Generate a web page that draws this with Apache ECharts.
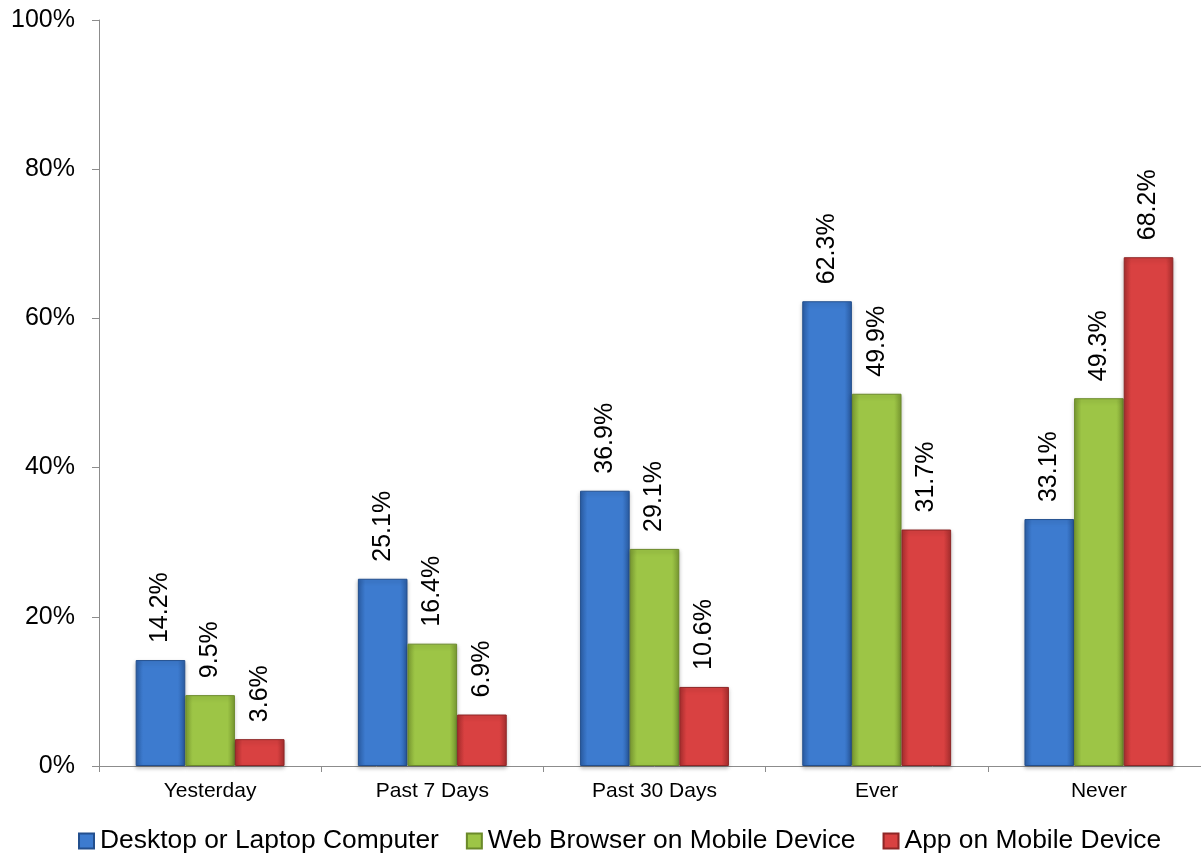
<!DOCTYPE html>
<html>
<head>
<meta charset="utf-8">
<script src="https://cdn.jsdelivr.net/npm/echarts@6/dist/echarts.min.js"></script>
<style>
  html, body { margin: 0; padding: 0; background: #fff; overflow: hidden; }
  /* the plot runs a little past the right edge in the original */
  #chart { width: 1212px; height: 855px; }
</style>
</head>
<body>
<div id="chart"></div>
<script>
const categories = ['Yesterday', 'Past 7 Days', 'Past 30 Days', 'Ever', 'Never']
const seriesNames = ['Desktop or Laptop Computer', 'Web Browser on Mobile Device', 'App on Mobile Device']
const desktop = [14.2, 25.1, 36.9, 62.3, 33.1]
const mobileWeb = [9.5, 16.4, 29.1, 49.9, 49.3]
const mobileApp = [3.6, 6.9, 10.6, 31.7, 68.2]

const chart = echarts.init(document.getElementById('chart'))

// darker edges, lighter middle, to fake the bevel look
function bevel(edge, mid) {
    return new echarts.graphic.LinearGradient(0, 0, 1, 0, [
        {offset: 0, color: edge},
        {offset: 0.15, color: mid},
        {offset: 0.85, color: mid},
        {offset: 1, color: edge}
    ])
}

function makeSeries(name, data, edge, mid, border) {
    return {
        name: name,
        type: 'bar',
        data: data,
        barGap: '0%',
        barCategoryGap: '33%',
        itemStyle: {
            color: bevel(edge, mid),
            borderColor: border,
            borderWidth: 1,
            shadowColor: 'rgba(0,0,0,0.25)',
            shadowBlur: 4,
            shadowOffsetY: 2
        },
        label: {
            show: true,
            position: 'top',
            rotate: 90,
            align: 'left',
            verticalAlign: 'middle',
            distance: 17,
            fontSize: 25,
            fontFamily: 'Liberation Sans',
            color: '#000',
            formatter: p => p.value.toFixed(1) + '%'
        }
    }
}

chart.setOption({
    animation: false,
    grid: {left: 99, top: 20, width: 1111, bottom: 89, containLabel: false},
    legend: {
        data: seriesNames,
        top: 823,
        left: 73,
        itemWidth: 15,
        itemHeight: 15,
        itemGap: 27,
        icon: 'rect',
        textStyle: {fontSize: 26.4, fontFamily: 'Liberation Sans', color: '#000', padding: [0, 0, 0, 1]}
    },
    xAxis: {
        type: 'category',
        data: categories,
        axisLine: {lineStyle: {color: '#8c8c8c', width: 1}},
        axisTick: {show: true, length: 6, lineStyle: {color: '#8c8c8c'}},
        axisLabel: {fontSize: 21, fontFamily: 'Liberation Sans', color: '#000', margin: 15}
    },
    yAxis: {
        type: 'value',
        min: 0,
        max: 100,
        interval: 20,
        axisLine: {show: true, lineStyle: {color: '#8c8c8c', width: 1}},
        axisTick: {show: true, length: 7, lineStyle: {color: '#8c8c8c'}},
        splitLine: {show: false},
        axisLabel: {fontSize: 25, fontFamily: 'Liberation Sans', color: '#000', margin: 24, formatter: '{value}%'}
    },
    series: [
        makeSeries(seriesNames[0], desktop, '#2b5ea6', '#3d7bcf', '#234f8e'),
        makeSeries(seriesNames[1], mobileWeb, '#7b9c32', '#9dc546', '#6b8a2a'),
        makeSeries(seriesNames[2], mobileApp, '#a92e2e', '#d94141', '#8e2626')
    ]
})
</script>
</body>
</html>
